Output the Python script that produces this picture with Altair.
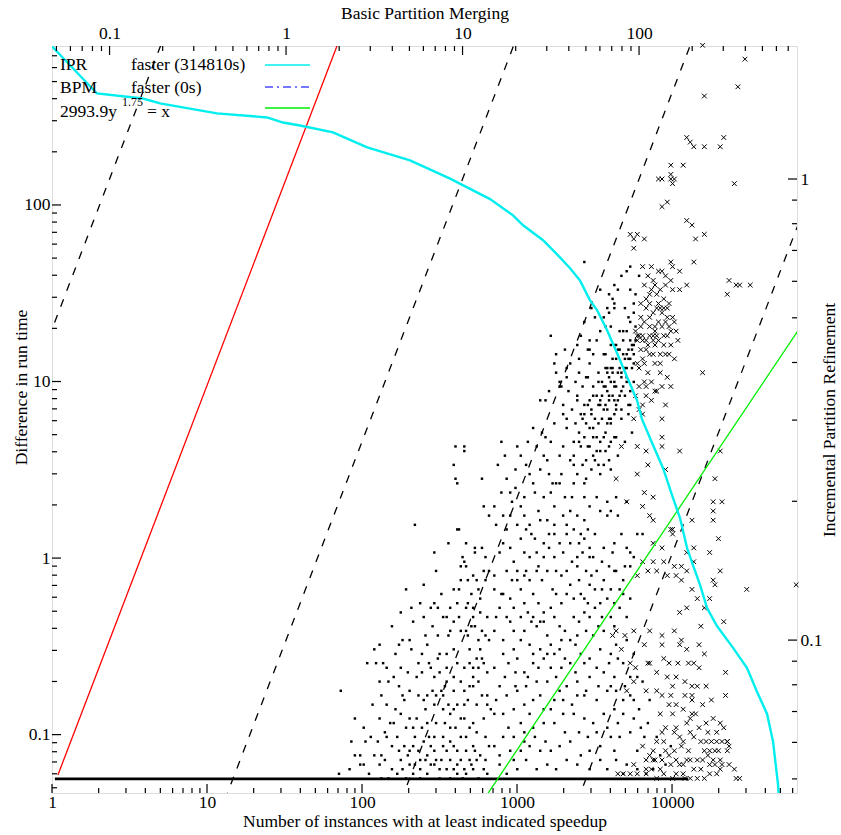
import altair as alt
import pandas as pd

FONT = "Liberation Serif"
FS = 17.5
W, H = 745, 747

# ---------------- data ----------------
# cumulative curve: number of instances vs difference in run time (s)
CYAN_INSTANCES = [1, 1.95, 3.86, 4.98, 11.6, 24.4, 30.9, 39.8, 65.0, 108, 204, 370, 670, 942, 1094,
                  1472, 1892, 2198, 2547, 2958, 3281, 3811, 4416, 5129, 5943, 6397, 7534, 8750, 10140,
                  11270, 12500, 13650, 15170, 16830, 19500, 24770, 30480, 35320, 41020, 44870, 48300, 48980]
CYAN_DIFF = [791, 428, 401, 376, 330, 313, 293, 282, 258, 212, 179, 141, 108, 87.3, 76.7, 63.1, 50.5,
             43.8, 37.4, 28.8, 25.4, 19.5, 14.5, 10.6, 7.83, 6.12, 4.37, 3.23, 2.19, 1.68, 1.14, 0.912,
             0.703, 0.521, 0.412, 0.310, 0.238, 0.175, 0.131, 0.091, 0.0519, 0.0427]

# scatter readings: (log10 BPM time, log10 IPR time)
DOTS_LOG_LEFT = [
    (0.96,-0.58),(1.01,-0.58),(1.01,-0.59),(0.95,-0.62),(1.11,-0.65),(0.96,-0.65),(0.97,-0.66),(1.12,-0.71),
    (1.15,-0.73),(0.73,-0.75),(0.97,-0.76),(0.98,-0.76),(0.92,-0.79),(1.02,-0.79),(1.07,-0.80),(1.11,-0.80),
    (1.07,-0.81),(0.84,-0.81),(1.00,-0.82),(1.01,-0.83),(1.13,-0.82),(0.99,-0.84),(1.02,-0.84),(1.12,-0.85),
    (0.85,-0.85),(1.06,-0.86),(1.08,-0.87),(1.03,-0.87),(1.13,-0.87),(0.99,-0.87),(0.68,-0.89),(0.78,-0.88),
    (0.95,-0.89),(0.98,-0.89),(1.09,-0.89),(1.03,-0.92),(0.88,-0.90),(1.10,-0.91),(0.84,-0.92),(0.76,-0.92),
    (0.82,-0.93),(0.86,-0.93),(0.93,-0.93),(1.02,-0.93),(1.06,-0.93),(1.10,-0.94),(0.65,-0.94),(0.78,-0.95),
    (0.89,-0.95),(0.91,-0.95),(0.98,-0.95),(1.06,-0.95),(1.02,-0.98),(0.93,-0.98),(0.99,-0.98),(1.07,-0.97),
    (1.11,-0.98),(1.13,-0.99),(0.79,-0.99),(0.92,-0.99),(1.03,-0.99),(1.09,-1.00),(0.66,-1.00),(0.64,-1.01),
    (0.53,-1.01),(0.71,-1.02),(0.77,-1.03),(0.87,-1.03),(0.91,-1.03),(1.04,-1.02),(1.10,-1.02),(1.11,-1.04),
    (1.12,-1.05),(0.46,-1.05),(0.51,-1.05),(0.55,-1.05),(1.04,-1.05),(1.01,-1.06),(1.06,-1.06),(0.65,-1.06),
    (0.81,-1.05),(0.82,-1.06),(0.91,-1.06),(0.69,-1.07),(0.77,-1.07),(0.84,-1.08),(0.91,-1.09),(0.95,-1.08),
    (1.06,-1.08),(0.53,-1.09),(0.58,-1.09),(0.61,-1.08),(0.70,-1.11),(0.83,-1.11),(0.88,-1.11),(0.95,-1.11),
    (1.01,-1.11),(1.04,-1.10),(1.06,-1.10),(1.09,-1.09),(1.11,-1.12),(1.14,-1.12),(0.31,-1.11),(0.57,-1.14),
    (0.62,-1.15),(0.67,-1.13),(0.75,-1.12),(0.80,-1.12),(0.85,-1.12),(0.89,-1.12),(0.84,-1.14),(0.92,-1.14),
    (0.97,-1.14),(1.01,-1.14),(0.89,-1.15),(0.93,-1.16),(0.99,-1.17),(0.65,-1.16),(0.70,-1.17),(0.74,-1.17),
    (0.80,-1.18),(0.85,-1.18),(0.90,-1.18),(0.93,-1.19),(1.01,-1.17),(1.06,-1.18),(1.12,-1.17),(0.39,-1.17),
    (0.48,-1.21),(0.56,-1.20),(0.57,-1.21),(0.61,-1.18),(0.68,-1.19),(0.72,-1.19),(0.77,-1.19),(0.84,-1.21),
    (0.89,-1.21),(0.93,-1.22),(0.99,-1.21),(1.02,-1.21),(1.08,-1.20),(1.13,-1.21),(0.37,-1.22),(0.52,-1.22),
    (0.60,-1.23),(0.64,-1.24),(0.72,-1.23),(0.78,-1.22),(0.84,-1.24),(0.89,-1.23),(0.91,-1.24),(0.97,-1.24),
    (1.02,-1.24),(1.06,-1.23),(1.10,-1.25),(0.42,-1.25),(0.50,-1.25),(0.54,-1.25),(0.69,-1.25),(0.76,-1.26),
    (0.80,-1.25),(0.85,-1.26),(0.93,-1.26),(0.99,-1.26),(1.04,-1.26),(1.08,-1.26),(1.13,-1.26),(0.42,-1.27),
    (0.53,-1.27),(0.65,-1.26),(0.70,-1.27),(0.76,-1.28),(0.82,-1.27),(0.87,-1.28),(0.95,-1.28),(1.01,-1.28),
    (1.06,-1.28),(0.30,-1.29),(0.54,-1.30),(0.63,-1.29),(0.72,-1.29),(0.80,-1.29),(0.87,-1.30),(0.93,-1.30),
    (1.02,-1.29),(1.09,-1.30),(1.14,-1.29),
    (0.60,-0.97),(0.72,-0.96),(0.83,-0.97),(0.97,-0.92),(1.05,-0.90),(1.15,-0.85),(0.70,-1.00),(0.80,-1.01),
    (0.95,-1.02),(1.08,-1.04),(1.15,-1.00),(0.57,-1.06),(0.74,-1.08),(0.87,-1.07),(0.99,-1.09),(1.14,-1.07),
    (0.66,-1.12),(0.79,-1.15),(0.95,-1.15),(1.08,-1.14),(1.16,-1.15),(0.49,-1.14),(0.59,-1.18),(0.73,-1.21),
    (0.81,-1.21),(0.96,-1.19),(1.04,-1.19),(1.15,-1.23),(0.45,-1.22),(0.56,-1.26),(0.67,-1.23),(0.75,-1.24),
    (0.82,-1.23),(0.95,-1.23),(1.05,-1.27),(0.47,-1.29),(0.60,-1.28),(0.68,-1.30),(0.76,-1.30),(0.84,-1.27),
    (0.97,-1.29),(1.12,-1.28),(0.44,-1.27),(0.36,-1.28),(0.39,-1.25),
    (0.50,-1.02),(0.62,-1.03),(0.75,-1.05),(0.86,-1.04),(0.97,-1.05),(1.09,-1.06),(0.54,-1.12),(0.64,-1.10),
    (0.78,-1.13),(0.90,-1.10),(1.03,-1.13),(1.14,-1.14),(0.44,-1.19),(0.53,-1.17),(0.63,-1.21),(0.70,-1.24),
    (0.79,-1.26),(0.88,-1.26),(0.97,-1.27),(1.07,-1.24),(0.58,-1.30),(0.66,-1.28),(0.73,-1.27),(0.91,-1.28),
    (1.00,-1.30),(0.86,-0.99),(0.95,-0.96),(1.05,-0.97),(1.14,-0.95),(0.71,-0.93),
]
DOTS_LOG_CENTRE = [
    (1.22,-0.57),(1.40,-0.54),(1.47,-0.56),(1.33,-0.60),(1.46,-0.60),(1.59,-0.54),(1.66,-0.57),(1.69,-0.56),
    (1.72,-0.54),(1.76,-0.56),(1.82,-0.53),(1.83,-0.58),(1.87,-0.56),(1.70,-0.61),(1.74,-0.60),(1.78,-0.59),
    (1.80,-0.62),(1.84,-0.63),(1.61,-0.61),(1.63,-0.62),(1.55,-0.60),(1.53,-0.66),(1.51,-0.66),(1.55,-0.66),
    (1.49,-0.64),(1.44,-0.63),(1.40,-0.66),(1.41,-0.68),(1.35,-0.69),(1.27,-0.68),(1.28,-0.70),(1.18,-0.71),
    (1.23,-0.73),(1.27,-0.73),(1.31,-0.75),(1.35,-0.73),(1.38,-0.75),(1.39,-0.77),(1.44,-0.74),(1.48,-0.74),
    (1.52,-0.75),(1.52,-0.77),(1.49,-0.77),(1.46,-0.79),(1.42,-0.81),(1.35,-0.81),(1.29,-0.83),(1.23,-0.79),
    (1.19,-0.75),(1.59,-0.75),(1.61,-0.72),(1.65,-0.73),(1.69,-0.69),(1.72,-0.71),(1.76,-0.69),(1.82,-0.70),
    (1.87,-0.69),(1.93,-0.70),(1.78,-0.72),(1.84,-0.72),(1.88,-0.73),(1.82,-0.73),(1.69,-0.74),(1.67,-0.77),
    (1.71,-0.76),(1.59,-0.77),(1.61,-0.79),(1.66,-0.79),(1.72,-0.80),(1.80,-0.80),(1.86,-0.79),(1.93,-0.80),
    (1.99,-0.77),(2.02,-0.77),(1.95,-0.81),(1.72,-0.82),(1.65,-0.82),(1.57,-0.81),(1.52,-0.82),(1.46,-0.82),
    (1.38,-0.82),(1.31,-0.85),(1.25,-0.85),(1.18,-0.86),(1.18,-0.89),(1.23,-0.90),(1.27,-0.91),(1.31,-0.87),
    (1.35,-0.86),(1.38,-0.87),(1.42,-0.85),(1.48,-0.85),(1.53,-0.85),(1.59,-0.85),(1.65,-0.84),(1.70,-0.85),
    (1.76,-0.85),(1.83,-0.84),(1.87,-0.85),(1.95,-0.84),(1.84,-0.89),(1.89,-0.89),(1.72,-0.88),(1.67,-0.90),
    (1.61,-0.88),(1.53,-0.90),(1.50,-0.93),(1.46,-0.94),(1.40,-0.95),(1.35,-0.92),(1.29,-0.93),(1.25,-0.95),
    (1.19,-0.95),(1.18,-0.98),(1.23,-1.00),(1.29,-0.98),(1.35,-0.98),(1.39,-0.96),(1.46,-0.96),(1.52,-0.95),
    (1.55,-0.97),(1.63,-0.95),(1.69,-0.94),(1.72,-0.95),(1.78,-0.92),(1.82,-0.91),(1.86,-0.92),(1.91,-0.90),
    (1.93,-0.95),(1.86,-0.97),(1.80,-0.98),(1.74,-0.99),(1.70,-0.98),(1.65,-0.99),(1.61,-1.00),(1.55,-1.02),
    (1.50,-1.01),(1.44,-1.02),(1.38,-1.01),(1.33,-1.00),(1.29,-1.02),(1.23,-1.03),(1.18,-1.06),(1.24,-1.08),
    (1.30,-1.07),(1.35,-1.07),(1.40,-1.05),(1.46,-1.04),(1.52,-1.03),(1.56,-1.06),(1.61,-1.05),(1.67,-1.03),
    (1.72,-1.04),(1.78,-1.02),(1.84,-1.03),(1.87,-1.01),(1.93,-1.00),(1.91,-1.05),(1.86,-1.08),(1.80,-1.07),
    (1.72,-1.08),(1.65,-1.09),(1.59,-1.10),(1.53,-1.08),(1.48,-1.09),(1.42,-1.09),(1.36,-1.10),(1.31,-1.11),
    (1.25,-1.12),(1.19,-1.13),(1.18,-1.16),(1.23,-1.16),(1.29,-1.15),(1.35,-1.14),(1.40,-1.13),(1.46,-1.15),
    (1.52,-1.13),(1.57,-1.13),(1.65,-1.12),(1.70,-1.11),(1.76,-1.13),(1.82,-1.11),(1.87,-1.11),(1.91,-1.13),
    (1.97,-1.13),(1.91,-1.16),(1.86,-1.15),(1.80,-1.16),(1.74,-1.18),(1.69,-1.17),(1.63,-1.16),(1.57,-1.16),
    (1.52,-1.18),(1.46,-1.18),(1.40,-1.19),(1.35,-1.20),(1.29,-1.21),(1.23,-1.21),(1.18,-1.23),(1.21,-1.25),
    (1.27,-1.24),(1.33,-1.24),(1.38,-1.23),(1.44,-1.24),(1.50,-1.24),(1.55,-1.23),(1.61,-1.22),(1.67,-1.25),
    (1.72,-1.24),(1.78,-1.23),(1.84,-1.21),(1.89,-1.21),(1.78,-1.26),(1.72,-1.28),(1.65,-1.27),(1.59,-1.26),
    (1.53,-1.28),(1.48,-1.27),(1.42,-1.28),(1.36,-1.26),(1.31,-1.28),(1.25,-1.29),(1.86,-1.24),(1.87,-1.26),
    (1.82,-1.28),(1.93,-1.27),(1.99,-1.28),(1.91,-1.29),(1.95,-1.20),(2.01,-1.19),(1.95,-1.08),(1.99,-1.08),
    (2.02,-1.09),(2.04,-1.29),
    (1.20,-0.62),(1.25,-0.65),(1.30,-0.63),(1.36,-0.62),(1.42,-0.58),(1.50,-0.57),(1.57,-0.58),(1.63,-0.66),
    (1.58,-0.69),(1.52,-0.71),(1.46,-0.69),(1.33,-0.71),(1.25,-0.76),(1.21,-0.81),(1.27,-0.80),(1.33,-0.78),
    (1.41,-0.78),(1.55,-0.79),(1.63,-0.76),(1.69,-0.78),(1.75,-0.77),(1.79,-0.83),(1.74,-0.82),(1.68,-0.81),
    (1.62,-0.83),(1.56,-0.86),(1.45,-0.87),(1.40,-0.90),(1.33,-0.89),(1.21,-0.93),(1.27,-0.96),(1.37,-0.94),
    (1.43,-0.92),(1.56,-0.92),(1.63,-0.91),(1.69,-0.91),(1.75,-0.89),(1.80,-0.87),(1.85,-0.81),(1.90,-0.77),
    (1.92,-0.84),(1.97,-0.82),(1.79,-0.95),(1.75,-0.93),(1.66,-0.96),(1.58,-0.98),(1.48,-0.99),(1.42,-0.97),
    (1.31,-1.04),(1.26,-1.05),(1.21,-1.10),(1.37,-1.08),(1.43,-1.06),(1.50,-1.06),(1.58,-1.04),(1.64,-1.07),
    (1.69,-1.05),(1.76,-1.06),(1.83,-1.05),(1.88,-1.04),(1.97,-1.03),(1.92,-1.10),(1.84,-1.10),(1.77,-1.10),
    (1.69,-1.12),(1.62,-1.14),(1.55,-1.11),(1.50,-1.15),(1.44,-1.12),(1.38,-1.16),(1.33,-1.18),(1.26,-1.19),
    (1.21,-1.27),(1.29,-1.26),(1.35,-1.22),(1.41,-1.21),(1.47,-1.22),(1.58,-1.20),(1.66,-1.20),(1.71,-1.21),
    (1.76,-1.20),(1.82,-1.19),(1.88,-1.18),
    (1.95,-1.12),(2.00,-1.15),(2.05,-1.18),(2.10,-1.21),(1.99,-1.24),(2.08,-1.28),(2.12,-1.25),(2.15,-1.27),
    (2.18,-1.23),(2.03,-1.21),(1.97,-1.17),(2.06,-1.13),
    (1.24,-0.60),(1.31,-0.58),(1.37,-0.57),(1.45,-0.55),(1.52,-0.53),(1.57,-0.51),(1.48,-0.61),(1.38,-0.64),
    (1.30,-0.67),(1.22,-0.68),(1.36,-0.76),(1.43,-0.72),(1.50,-0.68),(1.56,-0.64),(1.62,-0.69),(1.57,-0.73),
    (1.49,-0.80),(1.43,-0.84),(1.36,-0.85),(1.28,-0.87),(1.22,-0.90),(1.33,-0.95),(1.44,-0.96),(1.51,-0.89),
    (1.59,-0.90),(1.66,-0.87),(1.71,-0.92),(1.77,-0.97),(1.84,-0.95),(1.89,-0.93),(1.95,-0.91),(1.91,-0.87),
    (1.86,-0.85),(1.79,-0.89),(1.73,-0.86),(1.64,-1.01),(1.56,-1.00),(1.48,-1.03),(1.40,-1.03),(1.30,-1.10),
]
DOTS_LOG_UPPER = [
    (1.69,-0.18),(1.95,-0.19),(2.00,-0.21),(1.86,-0.23),(1.83,-0.25),(1.82,-0.28),(1.86,-0.27),(1.86,-0.28),
    (1.81,-0.32),(1.84,-0.32),(1.50,-0.34),(1.67,-0.34),(1.72,-0.35),(1.72,-0.37),(1.71,-0.37),(1.66,-0.39),
    (1.66,-0.42),(1.70,-0.43),(1.53,-0.38),(1.52,-0.40),(1.58,-0.37),(1.59,-0.41),(1.59,-0.43),(1.53,-0.42),
    (1.55,-0.44),(1.56,-0.45),(1.55,-0.45),(1.49,-0.46),(1.44,-0.48),(1.47,-0.48),(1.65,-0.47),(1.65,-0.48),
    (1.69,-0.49),(1.72,-0.48),(1.74,-0.47),(1.77,-0.44),(1.78,-0.48),(1.80,-0.45),(1.82,-0.46),(1.83,-0.47),
    (1.84,-0.44),(1.86,-0.45),(1.86,-0.48),(1.89,-0.47),(1.91,-0.45),(1.93,-0.43),(1.90,-0.42),(1.93,-0.41),
    (1.95,-0.46),(1.97,-0.44),(1.87,-0.49),(1.82,-0.50),(1.78,-0.49),(1.73,-0.51),(1.69,-0.51),(1.67,-0.51),
    (1.84,-0.52),(1.81,-0.41),(1.82,-0.41),(1.84,-0.41),(1.85,-0.42),(1.86,-0.36),(1.87,-0.36),(1.81,-0.38),
    (1.94,-0.37),(1.96,-0.36),(1.97,-0.36),(1.93,-0.38),(1.95,-0.39),(1.97,-0.40),(1.92,-0.47),(1.90,-0.50),
    (1.94,-0.51),(1.95,-0.49),
    (1.63,-0.60),(1.66,-0.55),(1.68,-0.62),(1.70,-0.53),(1.71,-0.58),(1.73,-0.50),(1.74,-0.56),(1.75,-0.61),
    (1.76,-0.47),(1.77,-0.53),(1.78,-0.57),(1.79,-0.44),(1.80,-0.50),(1.81,-0.55),(1.82,-0.42),(1.83,-0.48),
    (1.84,-0.53),(1.85,-0.39),(1.86,-0.44),(1.87,-0.50),(1.88,-0.37),(1.89,-0.41),(1.90,-0.46),(1.91,-0.33),
    (1.92,-0.39),(1.93,-0.44),(1.94,-0.30),(1.95,-0.35),(1.96,-0.41),(1.97,-0.27),(1.98,-0.32),(1.97,-0.38),
    (1.89,-0.33),(1.92,-0.28),(1.95,-0.24),(1.84,-0.36),(1.80,-0.38),(1.77,-0.42),(1.74,-0.45),(1.71,-0.49),
    (1.68,-0.52),(1.65,-0.64),(1.69,-0.66),(1.73,-0.63),(1.78,-0.64),(1.83,-0.61),(1.88,-0.60),(1.92,-0.57),
    (1.96,-0.55),(1.90,-0.52),(1.86,-0.56),(1.81,-0.59),(1.94,-0.49),
    (1.72,-0.40),(1.74,-0.38),(1.76,-0.35),(1.78,-0.33),(1.80,-0.30),(1.83,-0.29),(1.85,-0.26),(1.88,-0.24),
    (1.90,-0.21),(1.93,-0.20),(1.75,-0.52),(1.77,-0.49),(1.79,-0.47),(1.81,-0.45),(1.83,-0.43),(1.85,-0.41),
    (1.87,-0.39),(1.89,-0.37),(1.91,-0.35),(1.93,-0.33),(1.95,-0.31),(1.97,-0.29),(1.98,-0.25),(1.72,-0.58),
    (1.74,-0.54),(1.76,-0.59),(1.79,-0.52),(1.81,-0.49),(1.83,-0.52),(1.85,-0.47),(1.87,-0.45),(1.88,-0.48),
    (1.90,-0.43),(1.92,-0.41),(1.94,-0.39),(1.96,-0.37),(1.98,-0.35),(1.91,-0.38),(1.88,-0.42),(1.86,-0.51),
    (1.84,-0.57),(1.80,-0.56),(1.77,-0.62),(1.70,-0.65),(1.67,-0.58),(1.64,-0.53),(1.62,-0.50),(1.60,-0.46),
    (1.64,-0.44),(1.68,-0.45),(1.71,-0.43),(1.63,-0.57),(1.59,-0.52),(1.57,-0.49),(1.61,-0.40),(1.65,-0.36),
    (1.69,-0.31),(1.73,-0.28),(1.78,-0.24),(1.75,-0.30),
]
CROSSES_LOG_UPPER = [
    (2.36,0.29),(2.60,0.26),(2.56,0.20),(2.37,0.18),(2.27,0.09),(2.29,0.08),(2.31,0.07),(2.37,0.07),
    (2.48,0.09),(2.46,0.07),(2.25,0.03),(2.18,0.03),(2.18,0.01),(2.11,0.00),(2.13,0.00),(2.18,-0.00),
    (2.20,-0.00),(2.19,-0.01),(2.54,-0.01),(2.13,-0.06),(2.16,-0.05),(2.27,-0.09),(2.30,-0.10),(2.32,-0.13),
    (2.37,-0.12),(2.03,-0.13),(1.99,-0.12),(1.97,-0.13),(1.97,-0.15),(1.95,-0.12),(2.18,-0.18),(2.19,-0.19),
    (2.23,-0.20),(2.13,-0.20),(2.15,-0.21),(2.18,-0.22),(2.31,-0.18),(2.27,-0.23),(2.23,-0.24),(2.51,-0.22),
    (2.55,-0.23),(2.57,-0.23),(2.63,-0.23),(2.50,-0.25),(2.36,-0.42),(2.18,-0.45),(2.16,-0.43),(2.15,-0.49),
    (2.09,-0.46),(2.04,-0.45),(2.12,-0.40),(2.04,-0.26),(2.06,-0.25),(2.09,-0.23),(2.07,-0.24),(2.11,-0.27),
    (2.13,-0.29),(2.14,-0.28),(2.16,-0.30),(2.15,-0.31),(2.18,-0.33),(2.14,-0.34),(2.12,-0.38),(2.17,-0.38),
    (2.14,-0.36),(2.19,-0.30),(2.20,-0.31),(2.22,-0.35),(2.01,-0.30),(2.04,-0.28),(2.03,-0.31),(2.06,-0.30),
    (2.10,-0.28),(1.99,-0.35),(2.00,-0.34),(2.02,-0.34),(2.02,-0.35),(2.04,-0.35),(2.06,-0.34),(2.08,-0.34),
    (2.09,-0.33),(2.09,-0.32),(2.08,-0.35),(2.09,-0.36),(2.04,-0.37),(2.06,-0.38),(2.08,-0.38),(2.02,-0.39),
    (1.99,-0.40),(2.03,-0.40),(2.00,-0.41),(2.07,-0.44),(2.04,-0.47),(2.02,-0.49),(2.00,-0.50),(2.02,-0.51),
    (1.97,-0.52),(1.98,-0.33),(1.99,-0.34),
    (2.05,-0.21),(2.08,-0.22),(2.10,-0.25),(2.12,-0.24),(2.14,-0.26),(2.11,-0.31),(2.13,-0.32),(2.16,-0.34),
    (2.10,-0.34),(2.06,-0.32),(2.01,-0.27),(2.03,-0.23),(2.17,-0.27),(2.19,-0.24),(2.05,-0.42),
    (2.02,-0.19),(2.07,-0.19),(2.11,-0.20),(2.15,-0.23),(2.12,-0.28),(2.16,-0.28),(2.18,-0.36),(2.20,-0.39),
    (2.12,-0.42),(2.09,-0.40),(2.05,-0.36),(2.01,-0.37),(2.03,-0.44),(2.07,-0.48),(2.10,-0.46),(2.13,-0.45),
    (2.00,-0.45),(1.98,-0.47),(2.06,-0.27),(2.08,-0.29),(2.11,-0.35),(2.15,-0.38),(2.17,-0.32),(2.21,-0.33),
    (2.01,-0.32),
]
CROSSES_LOG_LOWER = [
    (1.90,-0.58),(1.99,-0.58),(2.04,-0.59),(2.13,-0.52),(2.13,-0.56),(2.13,-0.58),(2.23,-0.59),(2.05,-0.62),
    (2.15,-0.63),(1.99,-0.64),(1.87,-0.65),(2.03,-0.68),(2.08,-0.69),(1.93,-0.70),(2.06,-0.73),(2.08,-0.74),
    (2.02,-0.71),(2.30,-0.74),(2.42,-0.70),(2.42,-0.72),(2.42,-0.74),(2.47,-0.70),(2.43,-0.65),(2.46,-0.59),
    (2.18,-0.76),(2.19,-0.76),(2.08,-0.79),(2.13,-0.80),(2.19,-0.77),(2.27,-0.81),(2.31,-0.80),(2.40,-0.81),
    (2.45,-0.78),(2.02,-0.83),(2.08,-0.83),(2.14,-0.83),(2.20,-0.84),(2.24,-0.84),(2.31,-0.83),(1.99,-0.86),
    (2.05,-0.85),(2.10,-0.85),(2.16,-0.86),(2.21,-0.86),(2.24,-0.87),(2.27,-0.85),(2.30,-0.89),(2.33,-0.91),
    (2.37,-0.93),(2.40,-0.91),(2.42,-0.87),(2.43,-0.88),(2.46,-0.85),(2.48,-0.96),(2.61,-0.89),(2.89,-0.88),
    (2.23,-0.94),(2.27,-0.93),(2.35,-0.97),(2.34,-1.01),(2.37,-1.03),(2.20,-0.98),(2.23,-1.01),(2.13,-0.99),
    (2.06,-0.98),(2.03,-1.01),(1.97,-0.98),(1.92,-0.99),(1.87,-0.98),(1.85,-0.99),(1.90,-1.02),(1.95,-1.05),
    (2.05,-1.05),(2.06,-1.05),(2.13,-1.01),(2.17,-1.05),(2.10,-1.07),(1.98,-1.06),(1.97,-1.09),(1.93,-1.11),
    (2.04,-1.11),(2.10,-1.11),(2.13,-1.12),(2.19,-1.10),(2.21,-1.08),(2.26,-1.09),(2.30,-1.10),(2.30,-1.12),
    (2.30,-1.13),(2.25,-1.15),(2.21,-1.14),(2.19,-1.16),(2.15,-1.19),(2.13,-1.20),(2.14,-1.22),(2.10,-1.22),
    (2.08,-1.24),(2.06,-1.25),(2.04,-1.26),(2.02,-1.23),(2.04,-1.28),(2.08,-1.26),(2.13,-1.26),(2.17,-1.25),
    (2.20,-1.24),(2.21,-1.26),(2.25,-1.27),(2.29,-1.26),(2.24,-1.23),(2.23,-1.21),(2.29,-1.20),(2.29,-1.17),
    (2.21,-1.19),(2.37,-1.24),(2.39,-1.25),(2.42,-1.26),(2.46,-1.26),(2.50,-1.24),(2.50,-1.22),(2.45,-1.24),
    (2.51,-1.27),(2.46,-1.28),(2.44,-1.29),(2.40,-1.29),(2.37,-1.30),(2.33,-1.30),(2.29,-1.30),(2.25,-1.29),
    (2.21,-1.29),(2.19,-1.30),(2.14,-1.29),(2.10,-1.30),(2.07,-1.28),(2.04,-1.29),(1.99,-1.29),(1.97,-1.27),
    (1.95,-1.29),(1.91,-1.29),(1.88,-1.29),(2.54,-1.28),(2.55,-1.30),(2.57,-1.30),(2.42,-1.17),(2.46,-1.18),
    (2.49,-1.12),(2.49,-1.07),(2.40,-1.24),(2.48,-1.19),(2.50,-1.22),(2.51,-1.23),(2.44,-1.22),(2.39,-1.20),
    (2.25,-1.22),(2.27,-1.18),(2.31,-1.21),(2.33,-1.26),(2.35,-1.22),(2.38,-1.18),(2.36,-1.14),(2.32,-1.16),
    (2.28,-1.24),(2.26,-1.30),(2.35,-1.28),(2.41,-1.22),(2.43,-1.27),(2.47,-1.22),(2.33,-1.10),(2.28,-1.05),
    (2.24,-1.00),(2.31,-1.05),(2.18,-1.12),(2.16,-1.08),
    (2.12,-1.16),(2.17,-1.14),(2.20,-1.20),(2.26,-1.12),(2.30,-1.16),(2.34,-1.19),(2.38,-1.22),(2.43,-1.24),
    (2.47,-1.27),(2.36,-1.26),(2.31,-1.28),(2.23,-1.27),(2.18,-1.27),(2.12,-1.28),(2.09,-1.26),(2.15,-1.24),
    (2.27,-1.26),(2.40,-1.27),(2.44,-1.20),(2.38,-1.10),(2.27,-1.02),(2.22,-1.05),(2.14,-1.04),(2.34,-1.06),
    (2.41,-1.13),
]

FLOOR_BPM = [0.049, 190]          # many instances at the 0.05 s resolution floor
FLOOR_IPR = [0.05, 0.05]
EQUAL_BPM = [0.051, 1000]         # IPR = BPM (red)
DASH_RATIOS = [10, 0.1, 0.01, 0.001]
DASH_BPM = [0.01, 2000]
GREEN_BPM = [10.7, 890]           # 2993.9 y^1.75 = x
GREEN_IPR = [0.04, 0.5]

BOTTOM_MAJOR = [1, 10, 100, 1000, 10000]
BOTTOM_MINOR = [2, 3, 4, 5, 6, 7, 8, 9, 20, 30, 40, 50, 60, 70, 80, 90, 200, 300, 400, 500, 600, 700,
                800, 900, 2000, 3000, 4000, 5000, 6000, 7000, 8000, 9000, 20000, 30000, 40000, 50000, 60000]
TOP_MAJOR = [0.1, 1, 10, 100]
LOGMINOR_WIDE = [0.05, 0.06, 0.07, 0.08, 0.09, 0.2, 0.3, 0.4, 0.5, 0.6, 0.7, 0.8, 0.9, 2, 3, 4, 5, 6, 7,
                 8, 9, 20, 30, 40, 50, 60, 70, 80, 90, 200, 300, 400, 500, 600, 700]
LEFT_MAJOR = [0.1, 1, 10, 100]
RIGHT_MAJOR = [0.1, 1]
RIGHT_MINOR = [0.05, 0.06, 0.07, 0.08, 0.09, 0.2, 0.3, 0.4, 0.5, 0.6, 0.7, 0.8, 0.9]

# ---------------- scales ----------------
def top_x():
    return alt.Scale(type="log", domain=[0.0472, 785], nice=False)

def right_y():
    return alt.Scale(type="log", domain=[0.0466, 1.943], nice=False)

def bottom_x():
    return alt.Scale(type="log", domain=[1, 64000], nice=False)

def left_y():
    return alt.Scale(type="log", domain=[0.0467, 795], nice=False)


def pairs_df(pairs):
    df = pd.DataFrame(pairs, columns=["lb", "li"])
    df["bpm"] = 10 ** df["lb"]
    df["ipr"] = 10 ** df["li"]
    return df

dots_df = pairs_df(DOTS_LOG_LEFT + DOTS_LOG_CENTRE + DOTS_LOG_UPPER)
cross_df = pairs_df(CROSSES_LOG_UPPER + CROSSES_LOG_LOWER)
cyan_df = pd.DataFrame({"n": CYAN_INSTANCES, "d": CYAN_DIFF, "o": range(len(CYAN_INSTANCES))})
floor_df = pd.DataFrame({"bpm": FLOOR_BPM, "ipr": FLOOR_IPR})
equal_df = pd.DataFrame({"bpm": EQUAL_BPM, "ipr": EQUAL_BPM})
dash_df = pd.DataFrame([{"r": r, "bpm": b, "ipr": b * r} for r in DASH_RATIOS for b in DASH_BPM])
green_df = pd.DataFrame({"bpm": GREEN_BPM, "ipr": GREEN_IPR})
ONE = pd.DataFrame({"k": [0]})

XY = dict(
    x=alt.X("bpm:Q", scale=top_x(), axis=None),
    y=alt.Y("ipr:Q", scale=right_y(), axis=None),
)

dots = alt.Chart(dots_df).mark_square(size=6, color="black", opacity=1, filled=True).encode(**XY)
crosses = alt.Chart(cross_df).mark_point(
    shape="M-1,-1L1,1M-1,1L1,-1", size=22, strokeWidth=1, color="black", filled=False, opacity=1
).encode(**XY)
floor = alt.Chart(floor_df).mark_line(color="black", strokeWidth=2.6, clip=True).encode(**XY)
equal = alt.Chart(equal_df).mark_line(color="#ff0000", strokeWidth=1.3, clip=True).encode(**XY)
dashed = alt.Chart(dash_df).mark_line(color="black", strokeWidth=1.3, strokeDash=[8, 9], clip=True).encode(
    detail="r:N", **XY)
green = alt.Chart(green_df).mark_line(color="#00ee00", strokeWidth=1.3, clip=True).encode(**XY)
cyan = alt.Chart(cyan_df).mark_line(color="#00eeee", strokeWidth=2.4, clip=True).encode(
    x=alt.X("n:Q", scale=bottom_x(), axis=None),
    y=alt.Y("d:Q", scale=left_y(), axis=None),
    order="o:Q",
)

# ---------------- axes (inward ticks drawn as rules, labels from axes) ----------------
def axis(orient, values, title, **kw):
    base = dict(
        orient=orient, values=values, format="~g", ticks=False, tickSize=0, domain=False, grid=False,
        labelFlush=False, labelOverlap=False, labelFont=FONT, labelFontSize=FS, labelColor="black",
        title=title, titleFont=FONT, titleFontSize=FS, titleFontWeight="normal", titleColor="black",
    )
    base.update(kw)
    return alt.Axis(**base)

TICK = dict(color="black", strokeWidth=1.2)
MAJ, MIN = 9, 5

bottom_major = alt.Chart(pd.DataFrame({"v": BOTTOM_MAJOR})).mark_rule(**TICK).encode(
    x=alt.X("v:Q", scale=bottom_x(),
            axis=axis("bottom", BOTTOM_MAJOR, "Number of instances with at least indicated speedup",
                      labelPadding=0, titleY=33, titleBaseline="alphabetic")),
    y=alt.value(H), y2=alt.value(H - MAJ))
bottom_minor = alt.Chart(pd.DataFrame({"v": BOTTOM_MINOR})).mark_rule(**TICK).encode(
    x=alt.X("v:Q", scale=bottom_x(), axis=None), y=alt.value(H), y2=alt.value(H - MIN))

top_major = alt.Chart(pd.DataFrame({"v": TOP_MAJOR})).mark_rule(**TICK).encode(
    x=alt.X("v:Q", scale=top_x(),
            axis=axis("top", TOP_MAJOR, "Basic Partition Merging",
                      labelPadding=4, titleY=-28, titleBaseline="alphabetic")),
    y=alt.value(0), y2=alt.value(MAJ))
top_minor = alt.Chart(pd.DataFrame({"v": LOGMINOR_WIDE})).mark_rule(**TICK).encode(
    x=alt.X("v:Q", scale=top_x(), axis=None), y=alt.value(0), y2=alt.value(MIN))

left_major = alt.Chart(pd.DataFrame({"v": LEFT_MAJOR})).mark_rule(**TICK).encode(
    y=alt.Y("v:Q", scale=left_y(),
            axis=axis("left", LEFT_MAJOR, "Difference in run time",
                      labelPadding=2, titleX=-26, titleY=341, titleAngle=270, titleBaseline="alphabetic")),
    x=alt.value(0), x2=alt.value(MAJ))
left_minor = alt.Chart(pd.DataFrame({"v": LOGMINOR_WIDE})).mark_rule(**TICK).encode(
    y=alt.Y("v:Q", scale=left_y(), axis=None), x=alt.value(0), x2=alt.value(MIN))

right_major = alt.Chart(pd.DataFrame({"v": RIGHT_MAJOR})).mark_rule(**TICK).encode(
    y=alt.Y("v:Q", scale=right_y(),
            axis=axis("right", RIGHT_MAJOR, "Incremental Partition Refinement",
                      labelPadding=3, titleX=37, titleAngle=270, titleBaseline="alphabetic")),
    x=alt.value(W), x2=alt.value(W - MAJ))
right_minor = alt.Chart(pd.DataFrame({"v": RIGHT_MINOR})).mark_rule(**TICK).encode(
    y=alt.Y("v:Q", scale=right_y(), axis=None), x=alt.value(W), x2=alt.value(W - MIN))

# ---------------- key (top-left, inside the plot) ----------------
def label(text, x, y, size=FS):
    return alt.Chart(ONE).mark_text(text=text, align="left", baseline="middle", font=FONT,
                                    fontSize=size, color="black").encode(x=alt.value(x), y=alt.value(y))

def sample(color, y, dash=None):
    kw = dict(color=color, strokeWidth=1.4)
    if dash:
        kw["strokeDash"] = dash
    return alt.Chart(ONE).mark_rule(**kw).encode(x=alt.value(213), x2=alt.value(258), y=alt.value(y))

key = [
    label("IPR", 8, 19), label("faster (314810s)", 79, 19), sample("#00eeee", 19),
    label("BPM", 8, 42), label("faster (0s)", 79, 42), sample("#4a4aff", 41, [8, 4, 2, 4]),
    label("2993.9y", 8, 66), label("1.75", 70, 56, 12), label("= x", 95, 66), sample("#00ee00", 62),
]

chart = alt.layer(
    dots, crosses, floor, equal, dashed, green, cyan,
    bottom_minor, bottom_major, top_minor, top_major, left_minor, left_major, right_minor, right_major,
    *key,
).resolve_scale(x="independent", y="independent").properties(
    width=W, height=H,
    padding={"left": 52, "top": 46, "right": 44, "bottom": 42},
    autosize=alt.AutoSizeParams(type="none"),
).configure_view(stroke="black", strokeWidth=2).configure(background="white")

chart.save("out.html", embed_options={"renderer": "svg", "actions": False})
